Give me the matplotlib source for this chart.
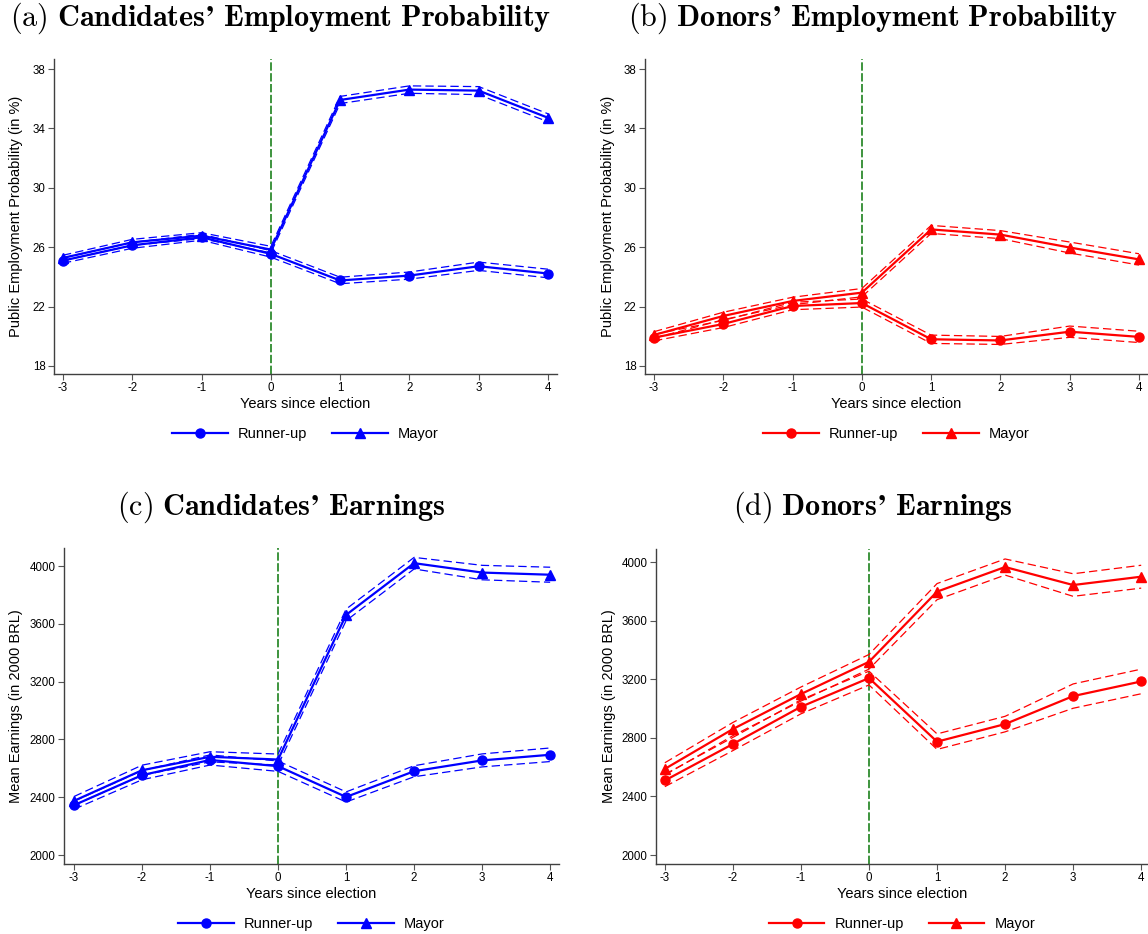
import numpy as np
import matplotlib
matplotlib.use('Agg')
import matplotlib.pyplot as plt
from matplotlib.lines import Line2D

plt.rcParams['font.family'] = ['Liberation Sans', 'DejaVu Sans']
plt.rcParams['mathtext.fontset'] = 'cm'
plt.rcParams['lines.scale_dashes'] = False
plt.rcParams['axes.unicode_minus'] = False

years = [-3, -2, -1, 0, 1, 2, 3, 4]

# (a) candidates' employment probability
candEmpMayor = [25.28, 26.33, 26.78, 25.84, 35.92, 36.62, 36.55, 34.72]
candEmpMayorCI = [0.18, 0.2, 0.2, 0.22, 0.24, 0.25, 0.27, 0.27]
candEmpRunner = [25.1, 26.13, 26.67, 25.55, 23.76, 24.09, 24.72, 24.23]
candEmpRunnerCI = [0.18, 0.2, 0.2, 0.22, 0.22, 0.24, 0.28, 0.29]

# (b) donors' employment probability
donEmpMayor = [20.09, 21.37, 22.38, 22.94, 27.2, 26.85, 25.98, 25.18]
donEmpMayorCI = [0.22, 0.25, 0.25, 0.28, 0.27, 0.27, 0.37, 0.38]
donEmpRunner = [19.91, 20.83, 22.04, 22.24, 19.8, 19.72, 20.31, 19.96]
donEmpRunnerCI = [0.22, 0.24, 0.25, 0.27, 0.28, 0.27, 0.38, 0.38]

# (c) candidates' earnings
candEarnMayor = [2375, 2587, 2680, 2661, 3662, 4020, 3955, 3940]
candEarnMayorCI = [30, 35, 35, 38, 40, 40, 50, 52]
candEarnRunner = [2345, 2553, 2658, 2615, 2402, 2580, 2655, 2694]
candEarnRunnerCI = [28, 32, 35, 36, 35, 38, 45, 47]

# (d) donors' earnings
donEarnMayor = [2588, 2860, 3099, 3319, 3798, 3966, 3843, 3900]
donEarnMayorCI = [42, 45, 48, 50, 55, 55, 77, 78]
donEarnRunner = [2509, 2758, 3012, 3208, 2774, 2894, 3085, 3185]
donEarnRunnerCI = [42, 45, 48, 47, 53, 53, 83, 84]

W, H = 1148, 934


def px(left, bottom, width, height):
    return [left / W, 1 - bottom / H, width / W, height / H]


def drawPanel(fig, rect, mayor, mayorCI, runner, runnerCI, color, ylim, xlim, yticks, ylabel, ylabelx):
    ax = fig.add_axes(rect)
    x = np.array(years)
    for vals, ci, marker in [(runner, runnerCI, 'o'), (mayor, mayorCI, '^')]:
        vals = np.array(vals, dtype=float)
        ci = np.array(ci, dtype=float)
        ax.plot(x, vals + ci, color=color, lw=0.9, dashes=(6, 3), zorder=3)
        ax.plot(x, vals - ci, color=color, lw=0.9, dashes=(6, 3), zorder=3)
        ax.plot(x, vals, color=color, lw=1.6, marker=marker, markersize=6.5, zorder=4)
    ax.axvline(0, color='#2e8b2e', lw=1.3, dashes=(6, 1.8), zorder=2)
    ax.set_xlim(*xlim)
    ax.set_ylim(*ylim)
    ax.set_xticks(years)
    ax.set_yticks(yticks)
    ax.spines['top'].set_visible(False)
    ax.spines['right'].set_visible(False)
    for s in ['left', 'bottom']:
        ax.spines[s].set_color('#404040')
        ax.spines[s].set_linewidth(1.0)
    ax.tick_params(direction='out', length=4, width=0.8, color='#555555', labelsize=8.3, pad=2)
    ax.set_xlabel('Years since election', fontsize=10.5)
    ax.xaxis.set_label_coords(0.5, -0.072)
    ax.set_ylabel(ylabel, fontsize=10.5)
    ax.yaxis.set_label_coords(ylabelx, 0.5)
    handles = [Line2D([], [], color=color, lw=1.6, marker='o', markersize=6.5),
               Line2D([], [], color=color, lw=1.6, marker='^', markersize=6.5)]
    ax.legend(handles, ['Runner-up', 'Mayor'], loc='center', bbox_to_anchor=(0.5, -0.19),
              ncol=2, frameon=False, fontsize=10.5, handlelength=3.8,
              handletextpad=0.7, columnspacing=1.7)
    return ax


fig = plt.figure(figsize=(W / 100, H / 100), dpi=100)

empTicks = [18, 22, 26, 30, 34, 38]
earnTicks = [2000, 2400, 2800, 3200, 3600, 4000]
empLabel = 'Public Employment Probability (in %)'
earnLabel = 'Mean Earnings (in 2000 BRL)'

drawPanel(fig, px(54, 374, 503, 315), candEmpMayor, candEmpMayorCI, candEmpRunner, candEmpRunnerCI,
          'blue', (17.46, 38.68), (-3.13, 4.13), empTicks, empLabel, -0.061)
drawPanel(fig, px(645, 374, 503, 315), donEmpMayor, donEmpMayorCI, donEmpRunner, donEmpRunnerCI,
          'red', (17.46, 38.68), (-3.13, 4.13), empTicks, empLabel, -0.059)
drawPanel(fig, px(64, 864, 495, 316), candEarnMayor, candEarnMayorCI, candEarnRunner, candEarnRunnerCI,
          'blue', (1938, 4125), (-3.147, 4.13), earnTicks, earnLabel, -0.083)
drawPanel(fig, px(656, 864, 492, 315), donEarnMayor, donEarnMayorCI, donEarnRunner, donEarnRunnerCI,
          'red', (1939, 4089), (-3.13, 4.1), earnTicks, earnLabel, -0.082)

titles = [(281, 18, r'$\mathrm{(a)}\ \mathbf{Candidates’\ Employment\ Probability}$'),
          (873, 18, r'$\mathrm{(b)}\ \mathbf{Donors’\ Employment\ Probability}$'),
          (281, 507, r'$\mathrm{(c)}\ \mathbf{Candidates’\ Earnings}$'),
          (873, 507, r'$\mathrm{(d)}\ \mathbf{Donors’\ Earnings}$')]
for tx, ty, t in titles:
    fig.text(tx / W, 1 - ty / H, t, ha='center', va='center', fontsize=21.7)

fig.savefig('out.png', dpi=100)
